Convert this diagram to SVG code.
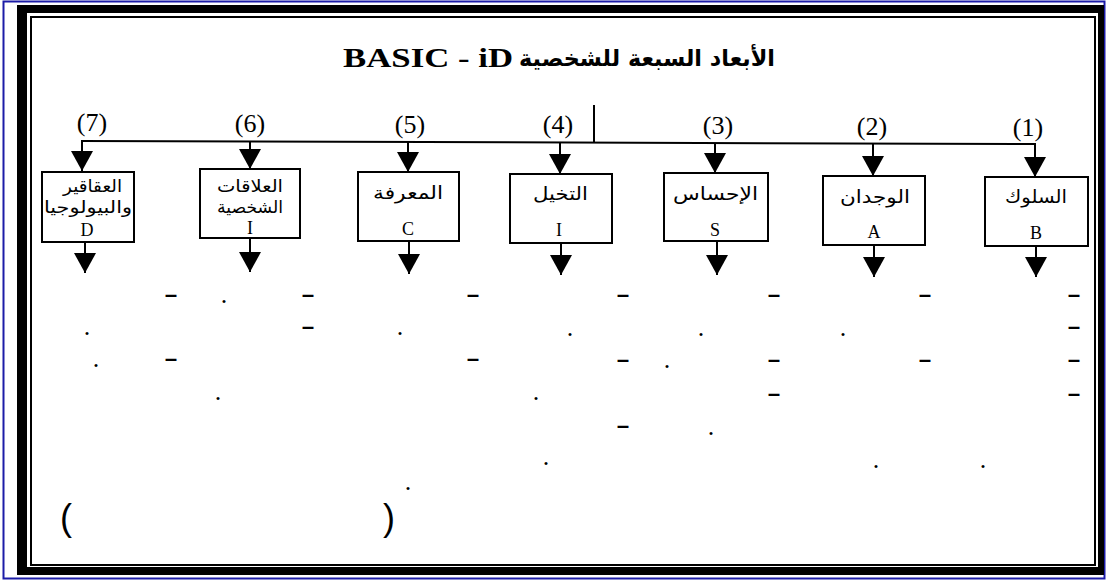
<svg xmlns="http://www.w3.org/2000/svg" width="1108" height="581" viewBox="0 0 1108 581">
<style>
.ar{font-family:"DejaVu Sans","Noto Sans",sans-serif;font-size:18px;fill:#000}
.ar2{font-family:"DejaVu Sans","Noto Sans",sans-serif;font-size:17px;fill:#000}
.lt{font-family:"Liberation Serif","Times New Roman",serif;font-size:18px;fill:#000;text-anchor:middle}
.num{font-family:"Liberation Serif","Times New Roman",serif;font-size:26px;fill:#000;text-anchor:middle}
.box{fill:#fff;stroke:#000;stroke-width:2}
.wire{fill:none;stroke:#000;stroke-width:2}
.dash{font-family:"Liberation Serif","Times New Roman",serif;font-size:27px;font-weight:bold;fill:#000}
.dot{font-family:"Liberation Serif","Times New Roman",serif;font-size:26px;fill:#000;text-anchor:middle}
</style>
<defs>
<marker id="ah" markerUnits="userSpaceOnUse" markerWidth="20" markerHeight="22" refX="20" refY="11" orient="auto" viewBox="0 0 20 22">
<path d="M0,0 L20,11 L0,22 Z" fill="#000"/>
</marker>
</defs>
<rect x="0" y="0" width="1108" height="581" fill="#fff"/>
<g id="frame">
<rect x="3.5" y="1.5" width="1101" height="577" fill="none" stroke="#1c1ca8" stroke-width="2"/>
<path d="M17,5 H1104 V575 H17 Z M27,13 V567 H1098 V13 Z" fill="#000" fill-rule="evenodd"/>
<rect x="31" y="17" width="1064" height="548" fill="none" stroke="#000" stroke-width="2"/>
</g>
<g id="title">
<text x="343" y="67" textLength="170" lengthAdjust="spacingAndGlyphs" style="font-family:'Liberation Serif','Times New Roman',serif;font-size:27px;font-weight:bold">BASIC - iD</text>
<text x="519" y="66" textLength="256" lengthAdjust="spacingAndGlyphs" style="font-family:'DejaVu Sans','Noto Sans',sans-serif;font-size:23px;font-weight:bold">الأبعاد السبعة للشخصية</text>
</g>
<g id="connectors">
<path class="wire" d="M81,141 L1036,144"/>
<path class="wire" d="M594,105 V143"/>
<path class="wire" marker-end="url(#ah)" d="M82,141 V171"/>
<path class="wire" marker-end="url(#ah)" d="M250,141.5 V169"/>
<path class="wire" marker-end="url(#ah)" d="M408,142 V172"/>
<path class="wire" marker-end="url(#ah)" d="M560,142.5 V174"/>
<path class="wire" marker-end="url(#ah)" d="M715,143 V173"/>
<path class="wire" marker-end="url(#ah)" d="M873,143.5 V176"/>
<path class="wire" marker-end="url(#ah)" d="M1035,144 V177"/>
<path class="wire" marker-end="url(#ah)" d="M85,242 V273"/>
<path class="wire" marker-end="url(#ah)" d="M250,238 V272"/>
<path class="wire" marker-end="url(#ah)" d="M409,241 V274"/>
<path class="wire" marker-end="url(#ah)" d="M561,243 V275"/>
<path class="wire" marker-end="url(#ah)" d="M717,241 V275"/>
<path class="wire" marker-end="url(#ah)" d="M874,245 V277"/>
<path class="wire" marker-end="url(#ah)" d="M1036,246 V277"/>
</g>
<g id="node7">
<text class="num" x="92" y="131">(7)</text>
<rect class="box" x="42" y="172" width="92" height="70"/>
<text class="ar2"><tspan x="63" y="192" textLength="59" lengthAdjust="spacingAndGlyphs">العقاقير</tspan><tspan x="44" y="213" textLength="88" lengthAdjust="spacingAndGlyphs">والبيولوجيا</tspan></text>
<text class="lt" x="87" y="236">D</text>
</g>
<g id="node6">
<text class="num" x="250" y="132">(6)</text>
<rect class="box" x="200" y="169" width="100" height="69"/>
<text class="ar2"><tspan x="217" y="192" textLength="66" lengthAdjust="spacingAndGlyphs">العلاقات</tspan><tspan x="217" y="213" textLength="66" lengthAdjust="spacingAndGlyphs">الشخصية</tspan></text>
<text class="lt" x="250" y="234">I</text>
</g>
<g id="node5">
<text class="num" x="410" y="132.5">(5)</text>
<rect class="box" x="358" y="172" width="101" height="69"/>
<text class="ar" x="373" y="199" textLength="70" lengthAdjust="spacingAndGlyphs">المعرفة</text>
<text class="lt" x="408" y="235">C</text>
</g>
<g id="node4">
<text class="num" x="558" y="133">(4)</text>
<rect class="box" x="510" y="174" width="102" height="69"/>
<text class="ar" x="533" y="200" textLength="55" lengthAdjust="spacingAndGlyphs">التخيل</text>
<text class="lt" x="559" y="236">I</text>
</g>
<g id="node3">
<text class="num" x="718" y="134">(3)</text>
<rect class="box" x="664" y="173" width="104" height="68"/>
<text class="ar" x="673" y="200" textLength="85" lengthAdjust="spacingAndGlyphs">الإحساس</text>
<text class="lt" x="715" y="236">S</text>
</g>
<g id="node2">
<text class="num" x="872" y="135">(2)</text>
<rect class="box" x="823" y="176" width="102" height="69"/>
<text class="ar" x="840" y="203" textLength="70" lengthAdjust="spacingAndGlyphs">الوجدان</text>
<text class="lt" x="874" y="238">A</text>
</g>
<g id="node1">
<text class="num" x="1028" y="136">(1)</text>
<rect class="box" x="985" y="177" width="103" height="69"/>
<text class="ar" x="1005" y="203" textLength="62" lengthAdjust="spacingAndGlyphs">السلوك</text>
<text class="lt" x="1036" y="239">B</text>
</g>
<g id="marks">
<text class="dash" x="164" y="302" textLength="14" lengthAdjust="spacingAndGlyphs">-</text>
<text class="dash" x="301" y="302" textLength="14" lengthAdjust="spacingAndGlyphs">-</text>
<text class="dash" x="466" y="302" textLength="14" lengthAdjust="spacingAndGlyphs">-</text>
<text class="dash" x="616" y="302" textLength="14" lengthAdjust="spacingAndGlyphs">-</text>
<text class="dash" x="767" y="302" textLength="14" lengthAdjust="spacingAndGlyphs">-</text>
<text class="dash" x="918" y="302" textLength="14" lengthAdjust="spacingAndGlyphs">-</text>
<text class="dash" x="1067" y="302" textLength="14" lengthAdjust="spacingAndGlyphs">-</text>
<text class="dash" x="301" y="334" textLength="14" lengthAdjust="spacingAndGlyphs">-</text>
<text class="dash" x="1067" y="334" textLength="14" lengthAdjust="spacingAndGlyphs">-</text>
<text class="dash" x="164" y="366" textLength="14" lengthAdjust="spacingAndGlyphs">-</text>
<text class="dash" x="466" y="366" textLength="14" lengthAdjust="spacingAndGlyphs">-</text>
<text class="dash" x="616" y="367" textLength="14" lengthAdjust="spacingAndGlyphs">-</text>
<text class="dash" x="767" y="367" textLength="14" lengthAdjust="spacingAndGlyphs">-</text>
<text class="dash" x="918" y="367" textLength="14" lengthAdjust="spacingAndGlyphs">-</text>
<text class="dash" x="1067" y="367" textLength="14" lengthAdjust="spacingAndGlyphs">-</text>
<text class="dash" x="767" y="401" textLength="14" lengthAdjust="spacingAndGlyphs">-</text>
<text class="dash" x="1067" y="401" textLength="14" lengthAdjust="spacingAndGlyphs">-</text>
<text class="dash" x="616" y="433" textLength="14" lengthAdjust="spacingAndGlyphs">-</text>
<text class="dot" x="224" y="303">.</text>
<text class="dot" x="87" y="335">.</text>
<text class="dot" x="400" y="335">.</text>
<text class="dot" x="570" y="336">.</text>
<text class="dot" x="701" y="336">.</text>
<text class="dot" x="843" y="336">.</text>
<text class="dot" x="96" y="367">.</text>
<text class="dot" x="667" y="368">.</text>
<text class="dot" x="218" y="400">.</text>
<text class="dot" x="536" y="400">.</text>
<text class="dot" x="711" y="435">.</text>
<text class="dot" x="546" y="465">.</text>
<text class="dot" x="876" y="468">.</text>
<text class="dot" x="983" y="468">.</text>
<text class="dot" x="408" y="490">.</text>
<text style="font-family:'Liberation Sans',Arial,sans-serif;font-size:36px;fill:#000;text-anchor:middle"><tspan x="66" y="530">(</tspan><tspan x="389" y="530">)</tspan></text>
</g>
</svg>
